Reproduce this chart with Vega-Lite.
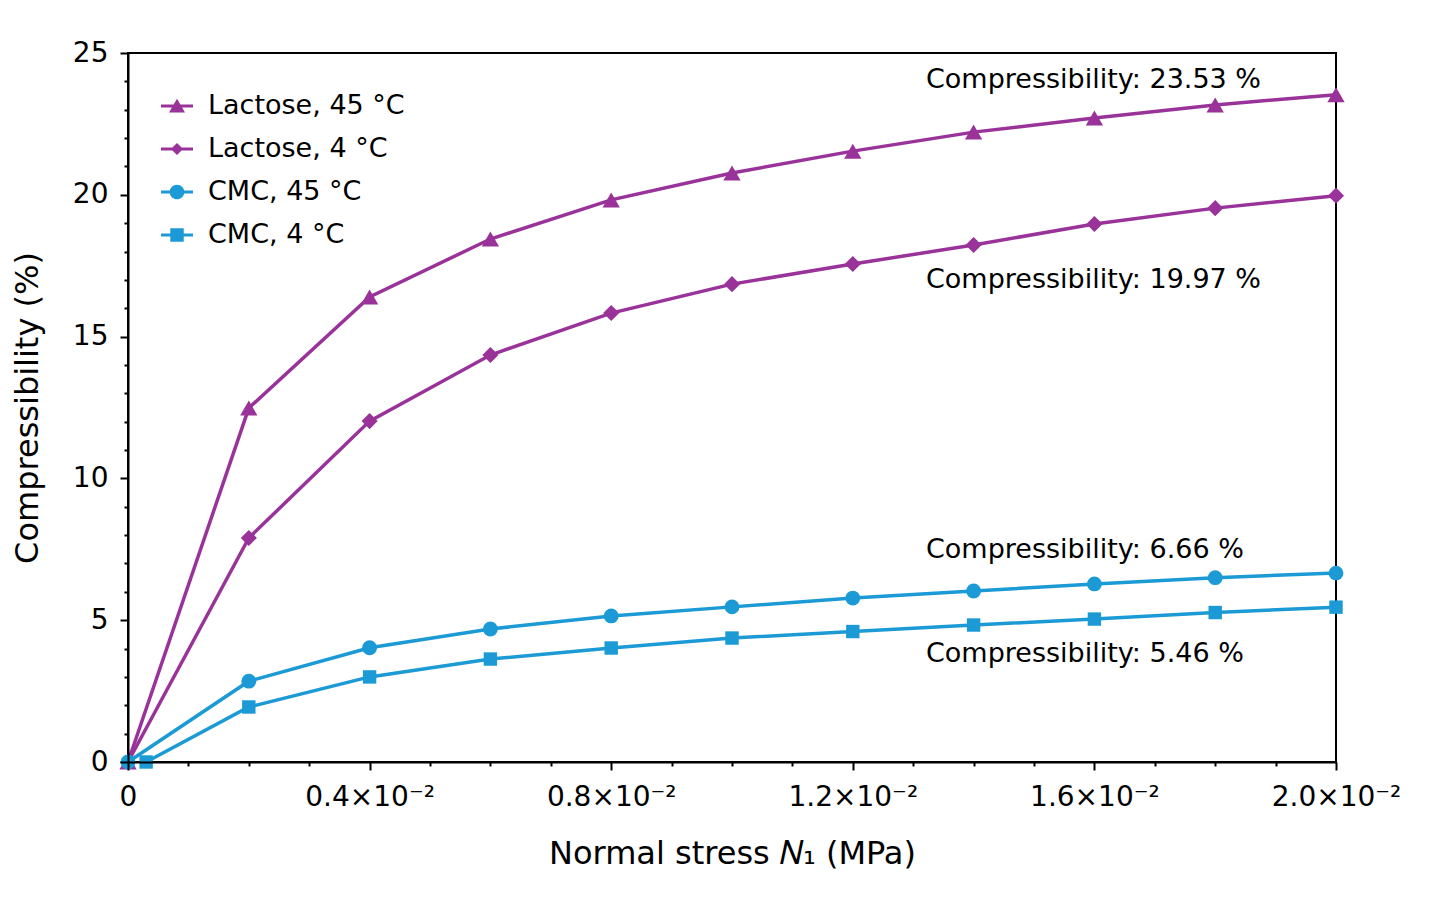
{
  "$schema": "https://vega.github.io/schema/vega-lite/v6.json",
  "width": 1208,
  "height": 709,
  "autosize": "none",
  "padding": {"left": 128, "top": 53, "right": 104, "bottom": 160},
  "background": "#ffffff",
  "config": {
    "view": {"stroke": "#000000", "strokeWidth": 2},
    "font": "DejaVu Sans",
    "axis": {
      "domainColor": "#000000",
      "domainWidth": 2,
      "tickColor": "#000000",
      "tickWidth": 2,
      "grid": false,
      "labelFont": "DejaVu Sans",
      "labelFontSize": 28,
      "labelColor": "#000000",
      "titleFont": "DejaVu Sans",
      "titleFontSize": 32,
      "titleFontWeight": "normal",
      "titleColor": "#000000"
    }
  },
  "data": {
    "values": [
      {"series": "Lactose, 45 °C", "x": 0.000, "y": 0},
      {"series": "Lactose, 45 °C", "x": 0.002, "y": 12.48},
      {"series": "Lactose, 45 °C", "x": 0.004, "y": 16.40},
      {"series": "Lactose, 45 °C", "x": 0.006, "y": 18.44},
      {"series": "Lactose, 45 °C", "x": 0.008, "y": 19.82},
      {"series": "Lactose, 45 °C", "x": 0.010, "y": 20.77},
      {"series": "Lactose, 45 °C", "x": 0.012, "y": 21.54},
      {"series": "Lactose, 45 °C", "x": 0.014, "y": 22.21},
      {"series": "Lactose, 45 °C", "x": 0.016, "y": 22.71},
      {"series": "Lactose, 45 °C", "x": 0.018, "y": 23.17},
      {"series": "Lactose, 45 °C", "x": 0.020, "y": 23.53},
      {"series": "Lactose, 4 °C", "x": 0.000, "y": 0},
      {"series": "Lactose, 4 °C", "x": 0.002, "y": 7.90},
      {"series": "Lactose, 4 °C", "x": 0.004, "y": 12.02},
      {"series": "Lactose, 4 °C", "x": 0.006, "y": 14.35},
      {"series": "Lactose, 4 °C", "x": 0.008, "y": 15.83},
      {"series": "Lactose, 4 °C", "x": 0.010, "y": 16.85},
      {"series": "Lactose, 4 °C", "x": 0.012, "y": 17.56},
      {"series": "Lactose, 4 °C", "x": 0.014, "y": 18.23},
      {"series": "Lactose, 4 °C", "x": 0.016, "y": 18.97},
      {"series": "Lactose, 4 °C", "x": 0.018, "y": 19.53},
      {"series": "Lactose, 4 °C", "x": 0.020, "y": 19.97},
      {"series": "CMC, 45 °C", "x": 0.000, "y": 0},
      {"series": "CMC, 45 °C", "x": 0.002, "y": 2.85},
      {"series": "CMC, 45 °C", "x": 0.004, "y": 4.03},
      {"series": "CMC, 45 °C", "x": 0.006, "y": 4.69},
      {"series": "CMC, 45 °C", "x": 0.008, "y": 5.15},
      {"series": "CMC, 45 °C", "x": 0.010, "y": 5.47},
      {"series": "CMC, 45 °C", "x": 0.012, "y": 5.78},
      {"series": "CMC, 45 °C", "x": 0.014, "y": 6.03},
      {"series": "CMC, 45 °C", "x": 0.016, "y": 6.28},
      {"series": "CMC, 45 °C", "x": 0.018, "y": 6.50},
      {"series": "CMC, 45 °C", "x": 0.020, "y": 6.66},
      {"series": "CMC, 4 °C", "x": 0.0003, "y": 0},
      {"series": "CMC, 4 °C", "x": 0.002, "y": 1.94},
      {"series": "CMC, 4 °C", "x": 0.004, "y": 3.00},
      {"series": "CMC, 4 °C", "x": 0.006, "y": 3.63},
      {"series": "CMC, 4 °C", "x": 0.008, "y": 4.02},
      {"series": "CMC, 4 °C", "x": 0.010, "y": 4.37},
      {"series": "CMC, 4 °C", "x": 0.012, "y": 4.60},
      {"series": "CMC, 4 °C", "x": 0.014, "y": 4.83},
      {"series": "CMC, 4 °C", "x": 0.016, "y": 5.04},
      {"series": "CMC, 4 °C", "x": 0.018, "y": 5.27},
      {"series": "CMC, 4 °C", "x": 0.020, "y": 5.46}
    ]
  },
  "encoding": {
    "x": {
      "field": "x",
      "type": "quantitative",
      "scale": {"domain": [0, 0.02], "nice": false, "zero": false},
      "axis": {
        "title": "Normal stress 𝑁₁ (MPa)",
        "values": [0, 0.001, 0.002, 0.003, 0.004, 0.005, 0.006, 0.007, 0.008, 0.009, 0.01, 0.011, 0.012, 0.013, 0.014, 0.015, 0.016, 0.017, 0.018, 0.019, 0.02],
        "labelExpr": "datum.value === 0 ? '0' : (round(datum.value * 1000) % 4 === 0 ? format(datum.value * 100, '.1f') + '×10⁻²' : '')",
        "tickSize": {"condition": {"test": "round(datum.value * 1000) % 4 === 0", "value": 8}, "value": 4},
        "labelPadding": 13,
        "labelFlush": false,
        "labelOverlap": false,
        "titlePadding": 27,
        "zindex": 1
      }
    },
    "y": {
      "field": "y",
      "type": "quantitative",
      "scale": {"domain": [0, 25], "nice": false},
      "axis": {
        "title": "Compressibility (%)",
        "values": [0, 1, 2, 3, 4, 5, 6, 7, 8, 9, 10, 11, 12, 13, 14, 15, 16, 17, 18, 19, 20, 21, 22, 23, 24, 25],
        "labelExpr": "datum.value % 5 === 0 ? datum.label : ''",
        "tickSize": {"condition": {"test": "datum.value % 5 === 0", "value": 8}, "value": 4},
        "labelPadding": 12,
        "labelOverlap": false,
        "labelFlush": false,
        "titlePadding": 28,
        "zindex": 1
      }
    }
  },
  "layer": [
    {
      "mark": {"type": "line", "strokeWidth": 3.5},
      "encoding": {
        "color": {
          "field": "series",
          "type": "nominal",
          "scale": {"domain": ["Lactose, 45 °C", "Lactose, 4 °C", "CMC, 45 °C", "CMC, 4 °C"], "range": ["#993399", "#993399", "#1b9ad6", "#1b9ad6"]},
          "legend": null
        },
        "detail": {"field": "series"}
      }
    },
    {
      "mark": {"type": "point", "filled": true, "opacity": 1},
      "encoding": {
        "color": {
          "field": "series",
          "type": "nominal",
          "scale": {"domain": ["Lactose, 45 °C", "Lactose, 4 °C", "CMC, 45 °C", "CMC, 4 °C"], "range": ["#993399", "#993399", "#1b9ad6", "#1b9ad6"]},
          "legend": null
        },
        "shape": {
          "field": "series",
          "type": "nominal",
          "scale": {"domain": ["Lactose, 45 °C", "Lactose, 4 °C", "CMC, 45 °C", "CMC, 4 °C"], "range": ["triangle-up", "diamond", "circle", "square"]},
          "legend": null
        },
        "size": {
          "field": "series",
          "type": "nominal",
          "scale": {"domain": ["Lactose, 45 °C", "Lactose, 4 °C", "CMC, 45 °C", "CMC, 4 °C"], "range": [300, 180, 250, 210]},
          "legend": null
        }
      }
    },
    {
      "transform": [{"filter": "datum.x === 0.02 && datum.series === 'Lactose, 45 °C'"}],
      "mark": {"type": "text", "align": "left", "baseline": "alphabetic", "dx": -410, "dy": -7, "fontSize": 27, "font": "DejaVu Sans", "color": "#000000"},
      "encoding": {"text": {"value": "Compressibility: 23.53 %"}}
    },
    {
      "transform": [{"filter": "datum.x === 0.02 && datum.series === 'Lactose, 4 °C'"}],
      "mark": {"type": "text", "align": "left", "baseline": "alphabetic", "dx": -410, "dy": 92, "fontSize": 27, "font": "DejaVu Sans", "color": "#000000"},
      "encoding": {"text": {"value": "Compressibility: 19.97 %"}}
    },
    {
      "transform": [{"filter": "datum.x === 0.02 && datum.series === 'CMC, 45 °C'"}],
      "mark": {"type": "text", "align": "left", "baseline": "alphabetic", "dx": -410, "dy": -15, "fontSize": 27, "font": "DejaVu Sans", "color": "#000000"},
      "encoding": {"text": {"value": "Compressibility: 6.66 %"}}
    },
    {
      "transform": [{"filter": "datum.x === 0.02 && datum.series === 'CMC, 4 °C'"}],
      "mark": {"type": "text", "align": "left", "baseline": "alphabetic", "dx": -410, "dy": 55, "fontSize": 27, "font": "DejaVu Sans", "color": "#000000"},
      "encoding": {"text": {"value": "Compressibility: 5.46 %"}}
    },
    {
      "transform": [{"filter": "datum.series === 'none'"}],
      "mark": {"type": "point", "filled": true, "size": 1024},
      "encoding": {
        "color": {
          "field": "series",
          "type": "nominal",
          "scale": {"domain": ["Lactose, 45 °C", "Lactose, 4 °C", "CMC, 45 °C", "CMC, 4 °C"], "range": ["#993399", "#993399", "#1b9ad6", "#1b9ad6"]},
          "legend": {
            "title": null,
            "orient": "none",
            "legendX": 33,
            "legendY": 37,
            "padding": 0,
            "labelFont": "DejaVu Sans",
            "labelFontSize": 27,
            "labelColor": "#000000",
            "labelLimit": 0,
            "labelOffset": 15,
            "rowPadding": 14,
            "symbolSize": 1024,
            "symbolOpacity": 1,
            "symbolStrokeWidth": 0
          }
        },
        "shape": {
          "field": "series",
          "type": "nominal",
          "scale": {
            "domain": ["Lactose, 45 °C", "Lactose, 4 °C", "CMC, 45 °C", "CMC, 4 °C"],
            "range": [
              "M-1,-0.1H1V0.1H-1Z M0,-0.46L0.5,0.4H-0.5Z",
              "M-1,-0.1H1V0.1H-1Z M0,-0.38L0.38,0L0,0.38L-0.38,0Z",
              "M-1,-0.1H1V0.1H-1Z M-0.46,0A0.46,0.46 0 1,1 0.46,0A0.46,0.46 0 1,1 -0.46,0Z",
              "M-1,-0.1H1V0.1H-1Z M-0.42,-0.42H0.42V0.42H-0.42Z"
            ]
          },
          "legend": {
            "title": null,
            "orient": "none",
            "legendX": 33,
            "legendY": 37,
            "padding": 0,
            "labelFont": "DejaVu Sans",
            "labelFontSize": 27,
            "labelColor": "#000000",
            "labelLimit": 0,
            "labelOffset": 15,
            "rowPadding": 14,
            "symbolSize": 1024,
            "symbolOpacity": 1,
            "symbolStrokeWidth": 0
          }
        }
      }
    }
  ],
  "resolve": {"scale": {"shape": "independent", "color": "independent", "size": "independent"}}
}
